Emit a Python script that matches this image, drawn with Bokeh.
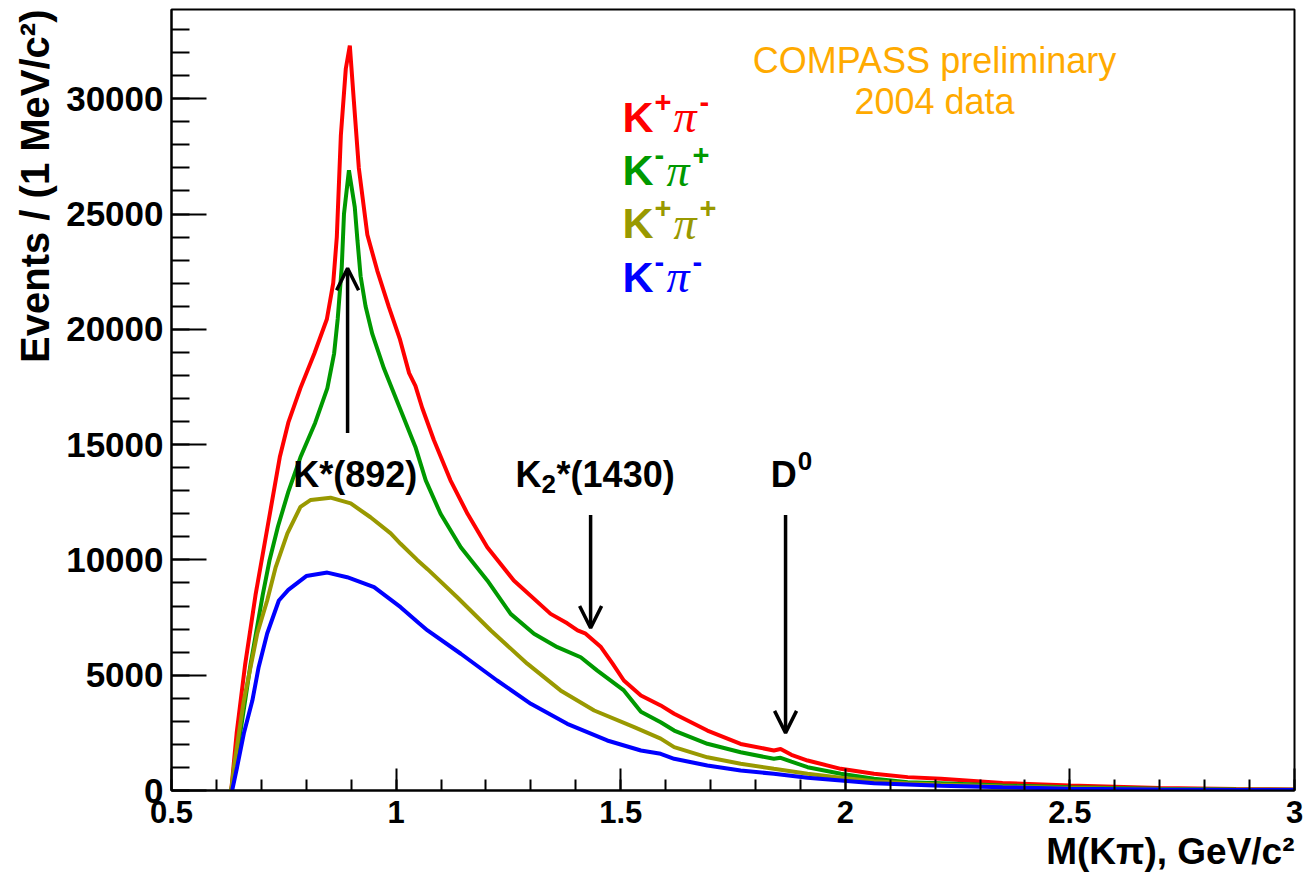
from bokeh.embed import file_html
from bokeh.models import Arrow, FixedTicker, Label, OpenHead, Range1d, Title
from bokeh.plotting import figure
from bokeh.resources import INLINE

# K+ pi- invariant mass spectrum (events per 1 MeV/c^2)
mass_kp_pim = [0.633, 0.645, 0.664, 0.687, 0.714, 0.741, 0.760, 0.787, 0.818, 0.846,
               0.860, 0.868, 0.877, 0.888, 0.897, 0.906, 0.917, 0.936, 0.958, 0.984,
               1.008, 1.029, 1.043, 1.058, 1.084, 1.121, 1.159, 1.203, 1.262, 1.344,
               1.381, 1.404, 1.422, 1.456, 1.482, 1.507, 1.545, 1.589, 1.619, 1.693,
               1.767, 1.841, 1.856, 1.880, 1.916, 1.990, 2.064, 2.139, 2.213, 2.350,
               2.500, 2.700, 2.870, 3.000]
events_kp_pim = [0, 2480, 5470, 8470, 11450, 14450, 15950, 17450, 18950, 20450,
                 22000, 24000, 28400, 31300, 32300, 29900, 27000, 24100, 22550, 20960,
                 19600, 18100, 17550, 16600, 15200, 13450, 12000, 10550, 9110, 7660,
                 7250, 6940, 6800, 6220, 5500, 4770, 4120, 3690, 3330, 2600,
                 2020, 1735, 1800, 1550, 1300, 940, 725, 580, 510, 330,
                 215, 110, 65, 40]

# K- pi+
mass_km_pip = [0.633, 0.641, 0.653, 0.676, 0.703, 0.718, 0.737, 0.760, 0.787, 0.820,
               0.847, 0.862, 0.870, 0.879, 0.884, 0.895, 0.908, 0.914, 0.921, 0.932,
               0.947, 0.973, 1.006, 1.043, 1.066, 1.099, 1.144, 1.203, 1.255, 1.307,
               1.359, 1.411, 1.448, 1.507, 1.545, 1.589, 1.619, 1.693, 1.767, 1.841,
               1.856, 1.880, 1.916, 1.990, 2.064, 2.139, 2.213, 2.350, 2.500, 2.700,
               2.870, 3.000]
events_km_pip = [0, 990, 2480, 5470, 8470, 9960, 11450, 12950, 14450, 15950,
                 17450, 18950, 20450, 22700, 25000, 26900, 25300, 23850, 22300, 21000,
                 19800, 18300, 16700, 14900, 13450, 12000, 10550, 9110, 7660, 6800,
                 6215, 5780, 5200, 4340, 3420, 2960, 2600, 2025, 1660, 1375,
                 1420, 1250, 1010, 724, 507, 360, 317, 220, 140, 75,
                 45, 30]

# K+ pi+
mass_kp_pip = [0.633, 0.639, 0.650, 0.661, 0.676, 0.691, 0.713, 0.732, 0.758, 0.787,
               0.810, 0.854, 0.899, 0.943, 0.988, 1.010, 1.047, 1.070, 1.136, 1.211,
               1.292, 1.366, 1.441, 1.530, 1.589, 1.619, 1.693, 1.767, 1.841, 1.916,
               1.990, 2.064, 2.139, 2.213, 2.350, 2.500, 2.700, 2.870, 3.000]
events_kp_pip = [0, 1010, 2470, 3900, 5350, 6810, 8240, 9690, 11150, 12300,
                 12600, 12700, 12450, 11850, 11150, 10700, 10000, 9600, 8380, 6940,
                 5500, 4340, 3470, 2745, 2250, 1880, 1440, 1160, 940, 724,
                 551, 403, 317, 260, 170, 110, 55, 35, 25]

# K- pi-
mass_km_pim = [0.635, 0.646, 0.661, 0.680, 0.694, 0.713, 0.739, 0.760, 0.800, 0.847,
               0.891, 0.951, 1.010, 1.051, 1.070, 1.144, 1.225, 1.300, 1.381, 1.470,
               1.545, 1.589, 1.619, 1.693, 1.767, 1.841, 1.916, 1.990, 2.064, 2.139,
               2.213, 2.350, 2.500, 2.700, 2.870, 3.000]
events_km_pim = [0, 1010, 2470, 3900, 5350, 6810, 8240, 8700, 9300, 9450,
                 9250, 8820, 7950, 7250, 6940, 5930, 4770, 3760, 2890, 2170,
                 1735, 1590, 1375, 1084, 867, 724, 551, 434, 317, 260,
                 204, 140, 80, 40, 25, 18]

series_colors = ["#FF0000", "#009900", "#999900", "#0000FF"]

x_major = [0.5, 1.0, 1.5, 2.0, 2.5, 3.0]
x_minor = [round(0.5 + 0.1 * i, 1) for i in range(26)]
y_major = [0, 5000, 10000, 15000, 20000, 25000, 30000]
y_minor = list(range(0, 34000, 1000))

# resonance markers: (mass, arrow tail, arrow tip)
kstar_arrow = (0.892, 15500, 22650)
k2star_arrow = (1.433, 11950, 7050)
d0_arrow = (1.867, 11950, 2500)

X_MIN, X_MAX = 0.5, 3.0
Y_MIN, Y_MAX = 0, 33870

FONT = "Liberation Sans"
SYMBOL_FONT = "Liberation Serif"

p = figure(width=1305, height=875,
           x_range=Range1d(X_MIN, X_MAX), y_range=Range1d(Y_MIN, Y_MAX),
           output_backend="svg", toolbar_location=None,
           min_border_left=171, min_border_right=11,
           min_border_top=9, min_border_bottom=85)

p.xgrid.visible = False
p.ygrid.visible = False
p.outline_line_color = "black"
p.outline_line_width = 2
p.background_fill_color = "white"
p.border_fill_color = "white"

for ax in (p.xaxis[0], p.yaxis[0]):
    ax.axis_line_width = 2
    ax.major_tick_line_width = 2
    ax.minor_tick_line_width = 2
    ax.major_tick_out = 0
    ax.minor_tick_out = 0
    ax.major_label_text_font = FONT
    ax.major_label_text_font_style = "bold"
    ax.major_label_text_color = "black"

p.xaxis.ticker = FixedTicker(ticks=x_major, minor_ticks=x_minor)
p.xaxis.major_tick_in = 22
p.xaxis.minor_tick_in = 11
p.xaxis.major_label_text_font_size = "31px"
p.xaxis.major_label_standoff = 10
p.xaxis.major_label_overrides = {0.5: "0.5", 1.0: "1", 1.5: "1.5", 2.0: "2", 2.5: "2.5", 3.0: "3"}

p.yaxis.ticker = FixedTicker(ticks=y_major, minor_ticks=y_minor)
p.yaxis.major_tick_in = 35
p.yaxis.minor_tick_in = 18
p.yaxis.major_label_text_font_size = "35px"
p.yaxis.major_label_standoff = 8

# axis titles, flush with the top / right end of the axes
p.add_layout(Title(text="Events / (1 MeV/c\u00b2)", align="right", text_font=FONT,
                   text_font_style="bold", text_font_size="40px", text_color="black",
                   standoff=14), "left")
p.add_layout(Title(text="M(K\u03c0), GeV/c\u00b2", align="right", text_font=FONT,
                   text_font_style="bold", text_font_size="37px", text_color="black",
                   standoff=6), "below")

# the four mass spectra
for xs, ys, col in zip([mass_kp_pim, mass_km_pip, mass_kp_pip, mass_km_pim],
                       [events_kp_pim, events_km_pip, events_kp_pip, events_km_pim],
                       series_colors):
    p.line(xs, ys, line_color=col, line_width=4)

# arrows pointing at the resonances
for mass, tail, tip in (kstar_arrow, k2star_arrow, d0_arrow):
    p.add_layout(Arrow(end=OpenHead(size=22, line_width=3.5, line_color="black"),
                       x_start=mass, y_start=tail, x_end=mass, y_end=tip,
                       line_width=3.5, line_color="black"))

# pixel offsets -> data offsets for positioning annotation text
SX = (X_MAX - X_MIN) / 1123.0
SY = (Y_MAX - Y_MIN) / 781.0


def put(text, x, y, dx=0.0, dy=0.0, size=36, font=FONT, style="bold", color="black",
        align="left"):
    p.add_layout(Label(x=x + dx * SX, y=y + dy * SY, text=text,
                       text_font=font, text_font_style=style,
                       text_font_size=f"{size}px", text_color=color,
                       text_align=align, text_baseline="alphabetic"))


# resonance names
put("K*(892)", 0.909, 13700, size=36, align="center")
put("K", 1.266, 13700, size=36)
put("2", 1.266, 13700, dx=26, dy=-9, size=26)
put("*(1430)", 1.266, 13700, dx=41, size=36)
put("D", 1.834, 13700, size=36)
put("0", 1.834, 13700, dx=27, dy=14, size=26)

# legend entries: charge signs as superscripts around K and pi
legend_rows = [("+", "-"), ("-", "+"), ("+", "+"), ("-", "-")]
legend_x = 1.504
legend_y = [29220, 26890, 24590, 22290]
for (k_sign, pi_sign), y0, col in zip(legend_rows, legend_y, series_colors):
    put("K", legend_x, y0, size=43, color=col)
    k_sign_w = 16 if k_sign == "+" else 9
    put(k_sign, legend_x, y0, dx=32, dy=15, size=29, color=col)
    pi_dx = 32 + k_sign_w + 3
    put("\u03c0", legend_x, y0, dx=pi_dx, size=46, font=SYMBOL_FONT, style="italic", color=col)
    put(pi_sign, legend_x, y0, dx=pi_dx + 26, dy=15, size=29, color=col)

# experiment tag
put("COMPASS preliminary", 2.1985, 31650, size=36, style="normal", color="#FFAA00", align="center")
put("2004 data", 2.1985, 29880, size=36, style="normal", color="#FFAA00", align="center")

open("out.html", "w").write(file_html(p, INLINE))
